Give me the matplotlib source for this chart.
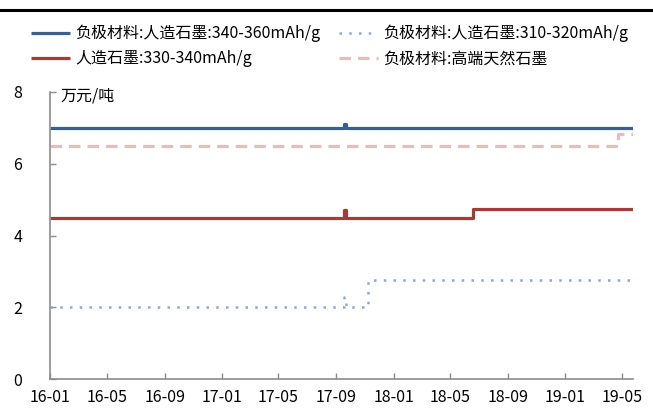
import matplotlib
matplotlib.use("Agg")
import matplotlib.pyplot as plt
from matplotlib.lines import Line2D
from matplotlib.transforms import offset_copy
import pandas as pd

plt.rcParams['font.family'] = ['Noto Sans CJK SC', 'DejaVu Sans']

# Step series given as change points (date, value)
blue_dates = ["2016-01-01", "2017-09-18", "2017-09-21", "2019-05-26"]
blue_vals = [7.0, 7.12, 7.0, 7.0]

red_dates = ["2016-01-01", "2017-09-18", "2017-09-21", "2018-06-18", "2019-05-26"]
red_vals = [4.5, 4.72, 4.5, 4.75, 4.75]

dot_dates = ["2016-01-01", "2017-09-18", "2017-09-21", "2017-11-08", "2019-05-22"]
dot_vals = [2.0, 2.28, 2.0, 2.75, 2.75]

pink_dates = ["2016-01-01", "2019-04-24", "2019-05-26"]
pink_vals = [6.5, 6.82, 6.82]

labels = ["负极材料:人造石墨:340-360mAh/g", "人造石墨:330-340mAh/g",
          "负极材料:人造石墨:310-320mAh/g", "负极材料:高端天然石墨"]
xtick_labels = ["16-01", "16-05", "16-09", "17-01", "17-05", "17-09", "18-01",
                "18-05", "18-09", "19-01", "19-05"]
yticks = [0, 2, 4, 6, 8]

fig = plt.figure(figsize=(6.53, 4.08), dpi=100)
ax = fig.add_axes([50/653, 29/408, 583/653, 287/408])

h1, = ax.plot(pd.to_datetime(blue_dates), blue_vals, drawstyle='steps-post',
              color='#3A5F8E', lw=2.3, solid_capstyle='butt')
h2, = ax.plot(pd.to_datetime(red_dates), red_vals, drawstyle='steps-post',
              color='#A33B3B', lw=2.3, solid_capstyle='butt')
h3, = ax.plot(pd.to_datetime(dot_dates), dot_vals, drawstyle='steps-post',
              color='#8EA7D0', lw=1.8, linestyle=(0, (1, 2.9)))
h4, = ax.plot(pd.to_datetime(pink_dates), pink_vals, drawstyle='steps-post',
              color='#E0BFBF', lw=2.3, linestyle=(0, (3.6, 2.2)))

tick_dates = pd.to_datetime(["20" + t[:2] + "-" + t[3:] + "-01" for t in xtick_labels])
ax.set_xticks(tick_dates)
ax.set_xticklabels(xtick_labels)
ax.set_xlim(pd.Timestamp("2016-01-01"), pd.Timestamp("2019-05-25"))
ax.set_ylim(0, 8)
ax.set_yticks(yticks)

for s in ['top', 'right']:
    ax.spines[s].set_visible(False)
for s in ['left', 'bottom']:
    ax.spines[s].set_color('#8C8C8C')
    ax.spines[s].set_linewidth(1.2)
ax.tick_params(axis='both', direction='in', length=4, width=1.0, color='#8C8C8C',
               labelsize=11.5, colors='#8C8C8C', labelcolor='black')
ax.tick_params(axis='y', pad=20)
ax.tick_params(axis='x', pad=7)

ax.text(0.018, 1.0, "万元/吨", fontsize=11.5, va='center', ha='left',
        transform=offset_copy(ax.transAxes, fig=fig, x=0, y=-4, units='dots'))

fig.legend([h1, h2, h3, h4], labels, ncol=2, loc='upper left',
           bbox_to_anchor=(31/653, 1 - 25/408), frameon=False, fontsize=11.5,
           handlelength=2.45, handletextpad=0.3, columnspacing=1.2,
           labelspacing=0.5, borderaxespad=0, borderpad=0)

fig.add_artist(Line2D([0, 1], [1 - 10/408, 1 - 10/408], transform=fig.transFigure,
                      color='black', lw=2.2))

fig.savefig("out.png", dpi=100)
